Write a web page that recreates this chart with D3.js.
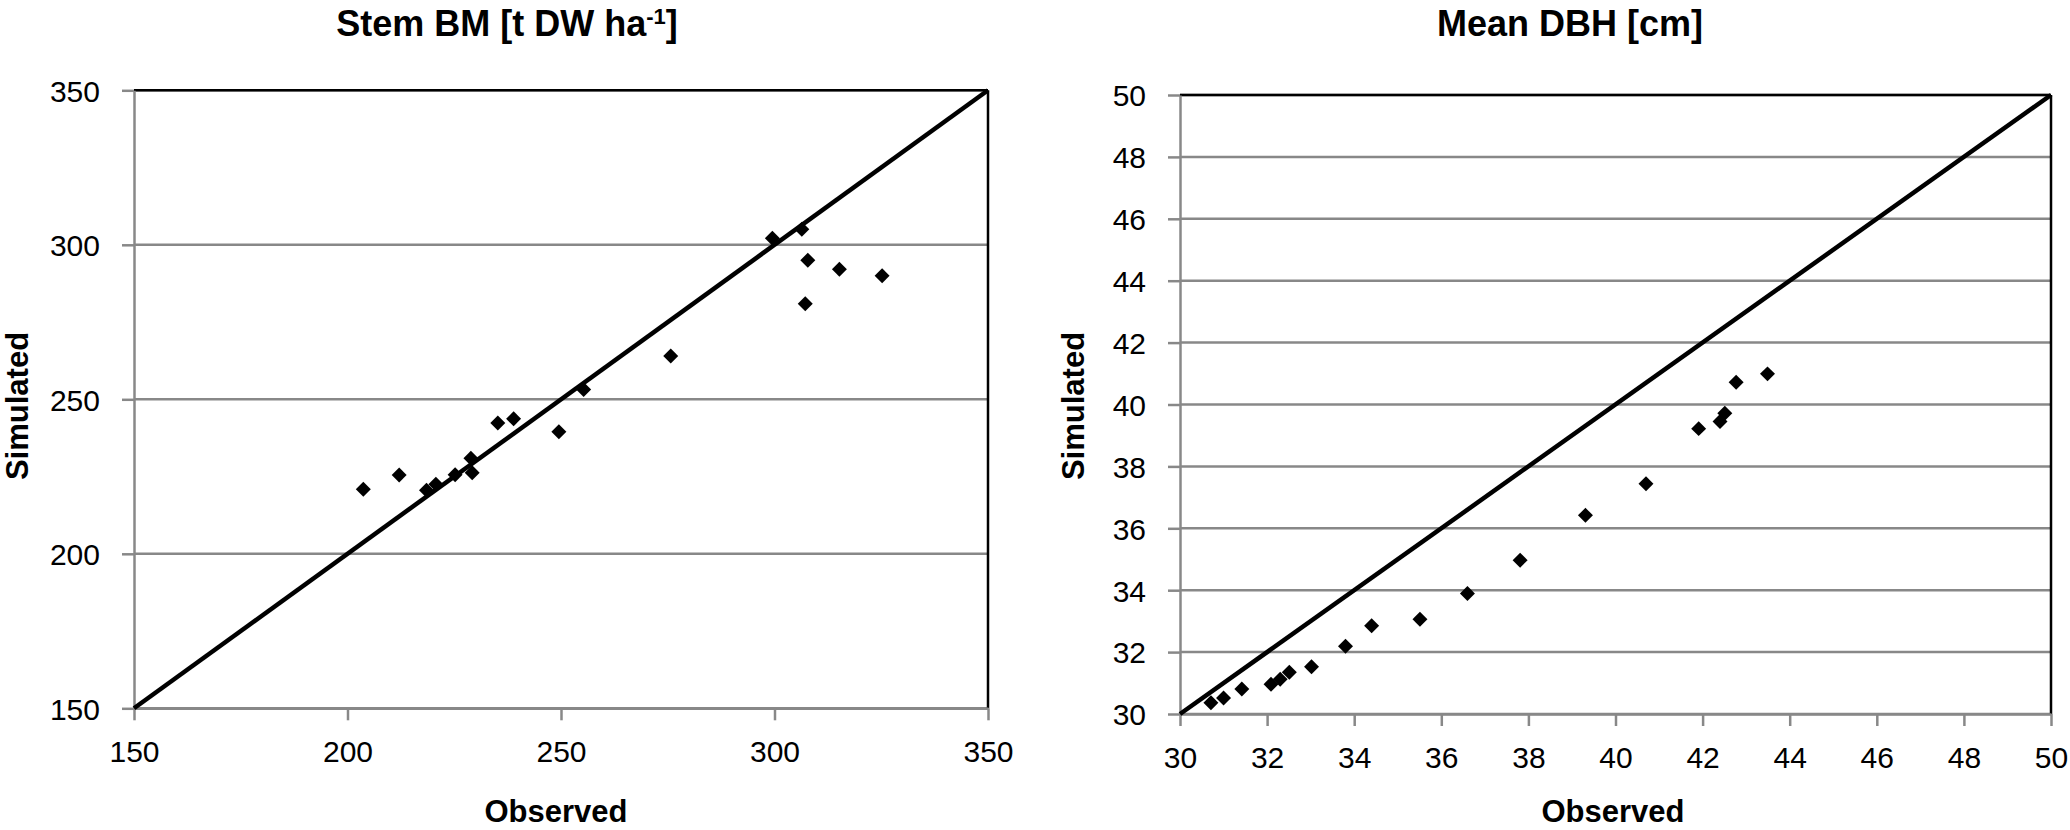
<!DOCTYPE html>
<html>
<head>
<meta charset="utf-8">
<script src="https://cdn.jsdelivr.net/npm/d3@7"></script>
<style>
  html, body { margin: 0; padding: 0; background: #ffffff; }
  svg { display: block; }
  text { font-family: "Liberation Sans", Arial, sans-serif; fill: #000; }
</style>
</head>
<body>
<svg id="chart" width="2070" height="830"></svg>
<script>
// ---------- Data ----------
// Left panel: Stem biomass
const stemObserved = [203.7, 212.1, 218.5, 220.7, 225.2, 228.9, 229.2, 235.2, 238.9, 249.5, 255.3, 275.7, 299.5, 306.4, 307.8, 307.2, 315.2, 325.2];
const stemSimulated = [220.9, 225.5, 220.6, 222.5, 225.6, 230.9, 226.2, 242.3, 243.7, 239.5, 253.2, 264.0, 302.1, 305.0, 295.0, 280.9, 292.1, 290.0];
const stemTicks = [150, 200, 250, 300, 350];
const stemDomain = [150, 350];

// Right panel: Mean DBH
const dbhObserved = [30.71, 31.00, 31.42, 32.09, 32.30, 32.51, 33.02, 33.80, 34.40, 35.51, 36.60, 37.81, 39.31, 40.70, 41.91, 42.40, 42.51, 42.77, 43.49];
const dbhSimulated = [30.36, 30.52, 30.81, 30.96, 31.12, 31.35, 31.53, 32.19, 32.85, 33.06, 33.89, 34.97, 36.42, 37.44, 39.22, 39.45, 39.72, 40.72, 40.99];
const dbhTicks = [30, 32, 34, 36, 38, 40, 42, 44, 46, 48, 50];
const dbhDomain = [30, 50];

const panels = [
  { title: "Stem BM [t DW ha", sup: "-1", titleEnd: "]", obs: stemObserved, sim: stemSimulated, ticks: stemTicks, domain: stemDomain,
    x0: 134, x1: 988, y0: 708.3, y1: 90.3, titleX: 507, xTitleX: 556, yTitleX: 28 },
  { title: "Mean DBH [cm]", sup: null, titleEnd: "", obs: dbhObserved, sim: dbhSimulated, ticks: dbhTicks, domain: dbhDomain,
    x0: 1180, x1: 2051, y0: 714, y1: 95, titleX: 1570, xTitleX: 1613, yTitleX: 1084 }
];

const svg = d3.select("#chart");
const gridColor = "#888888";

panels.forEach(p => {
  const x = d3.scaleLinear().domain(p.domain).range([p.x0, p.x1]);
  const y = d3.scaleLinear().domain(p.domain).range([p.y0, p.y1]);
  const g = svg.append("g");

  // horizontal gridlines
  g.selectAll("line.grid").data(p.ticks).enter().append("line")
    .attr("class", "grid")
    .attr("x1", p.x0).attr("x2", p.x1)
    .attr("y1", d => y(d)).attr("y2", d => y(d))
    .attr("stroke", gridColor).attr("stroke-width", 2.5);

  // plot border (top & right black)
  g.append("line").attr("x1", p.x0).attr("x2", p.x1).attr("y1", p.y1).attr("y2", p.y1)
    .attr("stroke", "#000").attr("stroke-width", 2.5);
  g.append("line").attr("x1", p.x1).attr("x2", p.x1).attr("y1", p.y1).attr("y2", p.y0)
    .attr("stroke", "#000").attr("stroke-width", 2.5);

  // axes
  const xAxis = d3.axisBottom(x).tickValues(p.ticks).tickSizeInner(12).tickSizeOuter(0).tickPadding(10).tickFormat(d3.format("d"));
  const yAxis = d3.axisLeft(y).tickValues(p.ticks).tickSizeInner(12).tickSizeOuter(0).tickPadding(22).tickFormat(d3.format("d"));

  const gx = g.append("g").attr("transform", `translate(0,${p.y0})`).call(xAxis);
  const gy = g.append("g").attr("transform", `translate(${p.x0},0)`).call(yAxis);
  [gx, gy].forEach(ax => {
    ax.select(".domain").attr("stroke", gridColor).attr("stroke-width", 2.5);
    ax.selectAll(".tick line").attr("stroke", gridColor).attr("stroke-width", 2.5);
    ax.selectAll(".tick text").attr("font-family", '"Liberation Sans", Arial, sans-serif')
      .attr("font-size", 30).attr("fill", "#000");
  });
  gx.selectAll(".tick text").attr("dy", "1.05em");
  gy.selectAll(".tick text").attr("dy", "0.36em");

  // 1:1 line
  g.append("line")
    .attr("x1", x(p.domain[0])).attr("y1", y(p.domain[0]))
    .attr("x2", x(p.domain[1])).attr("y2", y(p.domain[1]))
    .attr("stroke", "#000").attr("stroke-width", 4.5);

  // points
  const sym = d3.symbol().type(d3.symbolSquare).size(112);
  g.selectAll("path.pt").data(p.obs.map((o, i) => [o, p.sim[i]])).enter().append("path")
    .attr("class", "pt")
    .attr("d", sym)
    .attr("transform", d => `translate(${x(d[0])},${y(d[1])}) rotate(45)`)
    .attr("fill", "#000");

  // title
  const t = svg.append("text").attr("x", p.titleX).attr("y", 36)
    .attr("text-anchor", "middle").attr("font-weight", "bold").attr("font-size", 36);
  t.append("tspan").text(p.title);
  if (p.sup) {
    t.append("tspan").attr("font-size", 22).attr("dy", -12).text(p.sup);
    t.append("tspan").attr("dy", 12).text(p.titleEnd);
  }

  // axis titles
  svg.append("text").attr("x", p.xTitleX).attr("y", 822)
    .attr("text-anchor", "middle").attr("font-weight", "bold").attr("font-size", 31)
    .text("Observed");
  svg.append("text")
    .attr("transform", `translate(${p.yTitleX},406) rotate(-90)`)
    .attr("text-anchor", "middle").attr("font-weight", "bold").attr("font-size", 31)
    .text("Simulated");
});
</script>
</body>
</html>
